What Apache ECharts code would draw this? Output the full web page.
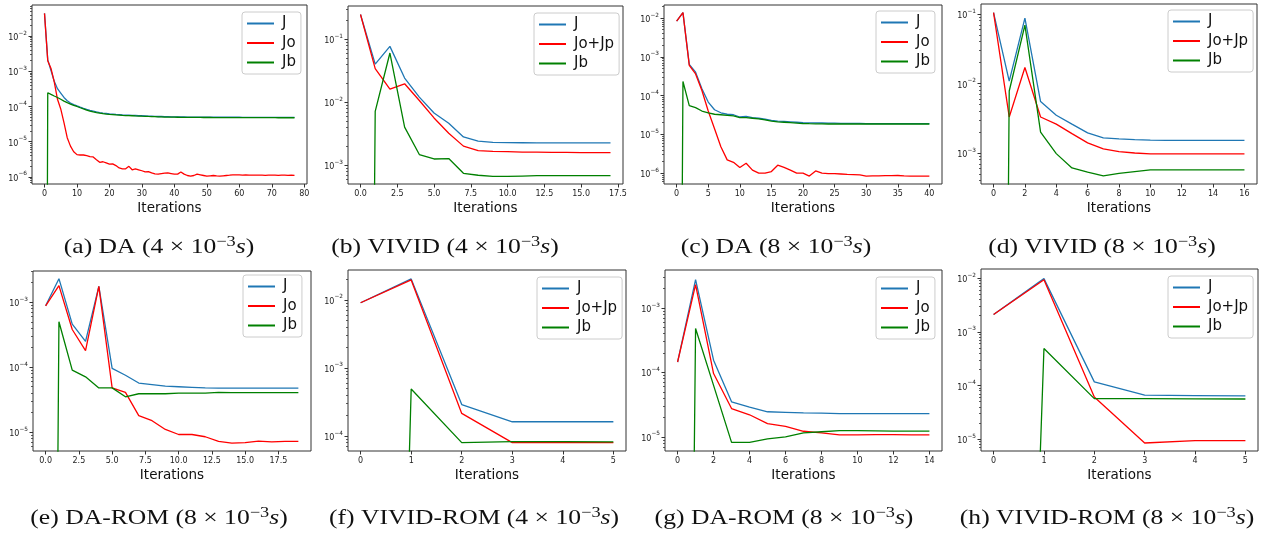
<!DOCTYPE html>
<html>
<head>
<meta charset="utf-8">
<script src="https://cdn.jsdelivr.net/npm/echarts@6/dist/echarts.min.js"></script>
<style>
  html, body { margin: 0; padding: 0; background: #fff; }
  #chart { width: 1271px; height: 535px; }
</style>
</head>
<body>
<div id="chart"></div>
<script>
// ---------------- cost histories per iteration (index = iteration) ----------------
// (a) DA, 4e-3 s
const jA = [0.044, 2.1e-3, 1.05e-3, 5.2e-4, 3.2e-4, 2.4e-4, 1.8e-4, 1.45e-4, 1.25e-4, 1.13e-4,
  1.04e-4, 9.6e-5, 8.9e-5, 8.3e-5, 7.8e-5, 7.4e-5, 7.0e-5, 6.7e-5, 6.5e-5, 6.35e-5,
  6.2e-5, 6.1e-5, 5.95e-5, 5.85e-5, 5.75e-5, 5.7e-5, 5.7e-5, 5.6e-5, 5.55e-5, 5.5e-5,
  5.45e-5, 5.4e-5, 5.35e-5, 5.3e-5, 5.25e-5, 5.2e-5, 5.2e-5, 5.15e-5, 5.15e-5, 5.1e-5,
  5.08e-5, 5.07e-5, 5.07e-5, 5.05e-5, 5.02e-5, 5.01e-5, 5.0e-5, 5.0e-5, 4.99e-5, 4.98e-5,
  4.97e-5, 4.97e-5, 4.96e-5, 4.96e-5, 4.95e-5, 4.95e-5, 4.95e-5, 4.94e-5, 4.94e-5, 4.94e-5,
  4.94e-5, 4.93e-5, 4.93e-5, 4.93e-5, 4.92e-5, 4.92e-5, 4.92e-5, 4.92e-5, 4.91e-5, 4.91e-5,
  4.91e-5, 4.91e-5, 4.9e-5, 4.9e-5, 4.9e-5, 4.9e-5, 4.9e-5, 4.9e-5];
const joA = [0.044, 2.0e-3, 1.2e-3, 5.0e-4, 1.6e-4, 8.5e-5, 3.5e-5, 1.3e-5, 7.5e-6, 5.2e-6,
  4.3e-6, 4.2e-6, 4.2e-6, 4.0e-6, 3.8e-6, 3.7e-6, 3.1e-6, 2.6e-6, 2.7e-6, 2.5e-6,
  2.3e-6, 2.35e-6, 2.1e-6, 1.8e-6, 1.7e-6, 1.7e-6, 2.0e-6, 1.6e-6, 1.7e-6, 1.6e-6,
  1.5e-6, 1.4e-6, 1.42e-6, 1.3e-6, 1.22e-6, 1.2e-6, 1.25e-6, 1.28e-6, 1.3e-6, 1.25e-6,
  1.2e-6, 1.2e-6, 1.38e-6, 1.2e-6, 1.1e-6, 1.05e-6, 1.1e-6, 1.2e-6, 1.15e-6, 1.1e-6,
  1.05e-6, 1.08e-6, 1.1e-6, 1.07e-6, 1.06e-6, 1.08e-6, 1.1e-6, 1.12e-6, 1.15e-6, 1.15e-6,
  1.14e-6, 1.13e-6, 1.14e-6, 1.13e-6, 1.12e-6, 1.13e-6, 1.12e-6, 1.12e-6, 1.11e-6, 1.12e-6,
  1.13e-6, 1.12e-6, 1.11e-6, 1.12e-6, 1.12e-6, 1.11e-6, 1.12e-6, 1.11e-6];
const jbA = [0, 2.45e-4, 2.2e-4, 1.98e-4, 1.8e-4, 1.6e-4, 1.42e-4, 1.28e-4, 1.17e-4, 1.08e-4,
  1.0e-4, 9.2e-5, 8.5e-5, 7.9e-5, 7.4e-5, 7.0e-5, 6.7e-5, 6.45e-5, 6.25e-5, 6.1e-5,
  5.97e-5, 5.87e-5, 5.75e-5, 5.67e-5, 5.58e-5, 5.53e-5, 5.5e-5, 5.45e-5, 5.38e-5, 5.35e-5,
  5.3e-5, 5.26e-5, 5.21e-5, 5.17e-5, 5.13e-5, 5.08e-5, 5.08e-5, 5.02e-5, 5.02e-5, 4.98e-5,
  4.96e-5, 4.95e-5, 4.93e-5, 4.93e-5, 4.91e-5, 4.9e-5, 4.89e-5, 4.88e-5, 4.88e-5, 4.87e-5,
  4.86e-5, 4.86e-5, 4.85e-5, 4.85e-5, 4.84e-5, 4.84e-5, 4.84e-5, 4.83e-5, 4.83e-5, 4.82e-5,
  4.82e-5, 4.82e-5, 4.82e-5, 4.82e-5, 4.81e-5, 4.81e-5, 4.81e-5, 4.81e-5, 4.8e-5, 4.8e-5,
  4.8e-5, 4.8e-5, 4.79e-5, 4.79e-5, 4.79e-5, 4.79e-5, 4.79e-5, 4.79e-5];

// (b) VIVID, 4e-3 s
const jB = [0.245, 0.040, 0.0765, 0.024, 0.012, 6.7e-3, 4.6e-3, 2.8e-3, 2.4e-3, 2.3e-3,
  2.27e-3, 2.26e-3, 2.25e-3, 2.25e-3, 2.25e-3, 2.25e-3, 2.25e-3, 2.25e-3];
const jojpB = [0.245, 0.034, 0.016, 0.0195, 0.0106, 5.6e-3, 3.2e-3, 2.0e-3, 1.7e-3, 1.65e-3,
  1.63e-3, 1.61e-3, 1.6e-3, 1.59e-3, 1.59e-3, 1.58e-3, 1.58e-3, 1.58e-3];
const jbB = [0, 7.1e-3, 0.06, 4.0e-3, 1.47e-3, 1.25e-3, 1.27e-3, 7.4e-4, 6.9e-4, 6.6e-4,
  6.6e-4, 6.7e-4, 6.8e-4, 6.8e-4, 6.8e-4, 6.8e-4, 6.8e-4, 6.8e-4];

// (c) DA, 8e-3 s
const jC = [8.3e-3, 0.0137, 6.4e-4, 4.0e-4, 1.5e-4, 6.8e-5, 4.3e-5, 3.6e-5, 3.3e-5, 3.2e-5,
  2.8e-5, 2.9e-5, 2.7e-5, 2.6e-5, 2.45e-5, 2.3e-5, 2.2e-5, 2.15e-5, 2.1e-5, 2.05e-5,
  2.0e-5, 1.98e-5, 1.97e-5, 1.96e-5, 1.95e-5, 1.94e-5, 1.93e-5, 1.92e-5, 1.92e-5, 1.91e-5,
  1.9e-5, 1.9e-5, 1.9e-5, 1.9e-5, 1.9e-5, 1.9e-5, 1.9e-5, 1.9e-5, 1.9e-5, 1.9e-5, 1.9e-5];
const joC = [8.3e-3, 0.0137, 6.0e-4, 3.6e-4, 1.35e-4, 4.0e-5, 1.4e-5, 4.8e-6, 2.2e-6, 1.9e-6,
  1.4e-6, 1.8e-6, 1.2e-6, 1.0e-6, 1.0e-6, 1.1e-6, 1.6e-6, 1.4e-6, 1.2e-6, 1.0e-6,
  1.0e-6, 8.4e-7, 1.14e-6, 1.0e-6, 9.7e-7, 9.7e-7, 9.5e-7, 9.3e-7, 9.2e-7, 9.0e-7,
  8.4e-7, 8.5e-7, 8.5e-7, 8.6e-7, 8.6e-7, 8.7e-7, 8.5e-7, 8.4e-7, 8.4e-7, 8.4e-7, 8.4e-7];
const jbC = [0, 2.3e-4, 5.5e-5, 4.9e-5, 4.0e-5, 3.6e-5, 3.3e-5, 3.2e-5, 3.1e-5, 3.0e-5,
  2.7e-5, 2.7e-5, 2.6e-5, 2.5e-5, 2.35e-5, 2.2e-5, 2.1e-5, 2.05e-5, 2.0e-5, 1.95e-5,
  1.9e-5, 1.88e-5, 1.87e-5, 1.86e-5, 1.85e-5, 1.85e-5, 1.85e-5, 1.85e-5, 1.85e-5, 1.85e-5,
  1.85e-5, 1.85e-5, 1.85e-5, 1.85e-5, 1.85e-5, 1.85e-5, 1.85e-5, 1.85e-5, 1.85e-5, 1.85e-5, 1.85e-5];

// (d) VIVID, 8e-3 s
const jD = [0.105, 0.0108, 0.087, 5.5e-3, 3.5e-3, 2.6e-3, 1.95e-3, 1.65e-3, 1.6e-3, 1.56e-3,
  1.53e-3, 1.52e-3, 1.52e-3, 1.52e-3, 1.52e-3, 1.52e-3, 1.52e-3];
const jojpD = [0.105, 3.3e-3, 0.017, 3.3e-3, 2.6e-3, 1.9e-3, 1.4e-3, 1.15e-3, 1.05e-3, 1.0e-3,
  9.7e-4, 9.7e-4, 9.7e-4, 9.7e-4, 9.7e-4, 9.7e-4, 9.7e-4];
const jbD = [0, 7.8e-3, 0.069, 2.0e-3, 9.8e-4, 6.1e-4, 5.3e-4, 4.7e-4, 5.1e-4, 5.4e-4,
  5.7e-4, 5.7e-4, 5.7e-4, 5.7e-4, 5.7e-4, 5.7e-4, 5.7e-4];

// (e) DA-ROM, 8e-3 s
const jE = [8.8e-4, 2.3e-3, 4.6e-4, 2.5e-4, 1.75e-3, 9.6e-5, 7.5e-5, 5.7e-5, 5.4e-5, 5.1e-5,
  5.0e-5, 4.9e-5, 4.8e-5, 4.75e-5, 4.75e-5, 4.75e-5, 4.75e-5, 4.75e-5, 4.75e-5, 4.75e-5];
const joE = [8.8e-4, 1.8e-3, 3.8e-4, 1.8e-4, 1.75e-3, 4.8e-5, 4.1e-5, 1.8e-5, 1.5e-5, 1.1e-5,
  9.2e-6, 9.2e-6, 8.5e-6, 7.2e-6, 6.8e-6, 6.9e-6, 7.3e-6, 7.1e-6, 7.2e-6, 7.2e-6];
const jbE = [0, 5.0e-4, 9.0e-5, 7.1e-5, 4.8e-5, 4.8e-5, 3.5e-5, 3.9e-5, 3.9e-5, 3.9e-5,
  4.0e-5, 4.0e-5, 4.0e-5, 4.1e-5, 4.05e-5, 4.05e-5, 4.05e-5, 4.05e-5, 4.05e-5, 4.05e-5];

// (f) VIVID-ROM, 4e-3 s
const jF = [9.1e-3, 0.0204, 2.9e-4, 1.62e-4, 1.62e-4, 1.62e-4];
const jojpF = [9.1e-3, 0.0197, 2.15e-4, 8.0e-5, 8.0e-5, 8.0e-5];
const jbF = [0, 4.9e-4, 8.0e-5, 8.3e-5, 8.25e-5, 8.2e-5];

// (g) DA-ROM, 8e-3 s
const jG = [1.45e-4, 2.75e-3, 1.55e-4, 3.5e-5, 2.9e-5, 2.45e-5, 2.4e-5, 2.35e-5, 2.33e-5, 2.3e-5,
  2.3e-5, 2.3e-5, 2.3e-5, 2.3e-5, 2.3e-5];
const joG = [1.45e-4, 2.3e-3, 9.6e-5, 2.75e-5, 2.2e-5, 1.6e-5, 1.45e-5, 1.22e-5, 1.15e-5, 1.07e-5,
  1.07e-5, 1.08e-5, 1.08e-5, 1.07e-5, 1.07e-5];
const jbG = [0, 4.8e-4, 6.3e-5, 8.2e-6, 8.2e-6, 9.3e-6, 1.0e-5, 1.15e-5, 1.2e-5, 1.25e-5,
  1.25e-5, 1.24e-5, 1.23e-5, 1.23e-5, 1.23e-5];

// (h) VIVID-ROM, 8e-3 s
const jH = [2.1e-3, 9.8e-3, 1.17e-4, 6.6e-5, 6.5e-5, 6.4e-5];
const jojpH = [2.1e-3, 9.3e-3, 6.1e-5, 8.5e-6, 9.4e-6, 9.4e-6];
const jbH = [0, 4.9e-4, 5.7e-5, 5.7e-5, 5.65e-5, 5.6e-5];

// legend names of the three curves in each panel
const namesDA = ['J', 'Jo', 'Jb'];
const namesVIVID = ['J', 'Jo+Jp', 'Jb'];

// x tick labels of each panel
const xTicksA = ['0', '10', '20', '30', '40', '50', '60', '70', '80'];
const xTicksB = ['0.0', '2.5', '5.0', '7.5', '10.0', '12.5', '15.0', '17.5'];
const xTicksC = ['0', '5', '10', '15', '20', '25', '30', '35', '40'];
const xTicksD = ['0', '2', '4', '6', '8', '10', '12', '14', '16'];
const xTicksE = ['0.0', '2.5', '5.0', '7.5', '10.0', '12.5', '15.0', '17.5'];
const xTicksF = ['0', '1', '2', '3', '4', '5'];
const xTicksG = ['0', '2', '4', '6', '8', '10', '12', '14'];
const xTicksH = ['0', '1', '2', '3', '4', '5'];

// sub-captions: [label, method, step]
const captions = [
  ['(a)', 'DA', '4'], ['(b)', 'VIVID', '4'], ['(c)', 'DA', '8'], ['(d)', 'VIVID', '8'],
  ['(e)', 'DA-ROM', '8'], ['(f)', 'VIVID-ROM', '4'], ['(g)', 'DA-ROM', '8'], ['(h)', 'VIVID-ROM', '8']
];

// ---------------- panel assembly ----------------
const panels = [
  { curves: [jA, joA, jbA], names: namesDA, ticks: xTicksA, x: [-3.85, 80.85], y: [-6.2, -1.12] },
  { curves: [jB, jojpB, jbB], names: namesVIVID, ticks: xTicksB, x: [-0.85, 17.85], y: [-3.30, -0.476] },
  { curves: [jC, joC, jbC], names: namesDA, ticks: xTicksC, x: [-2, 42], y: [-6.28, -1.665] },
  { curves: [jD, jojpD, jbD], names: namesVIVID, ticks: xTicksD, x: [-0.8, 16.8], y: [-3.446, -0.856] },
  { curves: [jE, joE, jbE], names: namesDA, ticks: xTicksE, x: [-0.95, 19.95], y: [-5.29, -2.52] },
  { curves: [jF, jojpF, jbF], names: namesVIVID, ticks: xTicksF, x: [-0.25, 5.25], y: [-4.22, -1.56] },
  { curves: [jG, joG, jbG], names: namesDA, ticks: xTicksG, x: [-0.7, 14.7], y: [-5.22, -2.41] },
  { curves: [jH, jojpH, jbH], names: namesVIVID, ticks: xTicksH, x: [-0.25, 5.25], y: [-5.22, -1.83] }
];

const gridRects = [
  { left: 32, top: 5, width: 275, height: 179 },
  { left: 348, top: 6, width: 275, height: 178 },
  { left: 664, top: 5, width: 278, height: 179 },
  { left: 981, top: 4, width: 276, height: 180 },
  { left: 33, top: 271, width: 278, height: 180 },
  { left: 348, top: 270, width: 278, height: 181 },
  { left: 665, top: 270, width: 277, height: 181 },
  { left: 981, top: 269, width: 277, height: 182 }
];
const legendPos = [[242, 12], [534, 13], [876, 11], [1168, 10], [243, 275], [537, 277], [876, 277], [1168, 276]];
const captionPos = [[159, 247], [445, 247], [776, 247], [1102, 247], [159, 518], [474, 518], [784, 518], [1107, 518]];

const COLORS = ['#1f77b4', '#ff0000', '#008000'];
const INK = '#222';
const SANS = 'DejaVu Sans';
const SERIF = 'Liberation Serif';

// a log axis has no place for zero: clip it far below the axis, as a log plot does
const clipPositive = v => (v > 0 ? v : 1e-30);

function decadeTicks(lo, hi) {
  const major = [], minor = [];
  for (let e = Math.floor(lo); e <= Math.ceil(hi); e++) {
    if (e >= lo && e <= hi) major.push(e);
    for (let m = 2; m <= 9; m++) {
      const v = e + Math.log10(m);
      if (v >= lo && v <= hi) minor.push(v);
    }
  }
  return { major, minor };
}

const powerLabel = e => '{b|10}{s|' + (e < 0 ? '\u2212' + (-e) : String(e)) + '}';

const option = {
  animation: false,
  backgroundColor: '#fff',
  grid: [], xAxis: [], yAxis: [], series: [], legend: [], graphic: []
};

panels.forEach((p, i) => {
  option.grid.push(Object.assign({
    show: true, borderColor: '#333', borderWidth: 1, backgroundColor: 'transparent',
    outerBoundsMode: 'none', containLabel: false
  }, gridRects[i]));

  const tickVals = p.ticks.map(Number);
  option.xAxis.push({
    type: 'value', gridIndex: i, position: 'bottom', min: p.x[0], max: p.x[1],
    axisLine: { show: false }, splitLine: { show: false },
    axisTick: { show: true, length: 3.5, lineStyle: { color: '#333', width: 1 }, customValues: tickVals },
    axisLabel: {
      customValues: tickVals, margin: 5.5, fontSize: 8, color: INK, fontFamily: SANS,
      formatter: v => p.ticks[tickVals.indexOf(v)] ?? String(v)
    },
    name: 'Iterations', nameLocation: 'middle', nameGap: 17,
    nameTextStyle: { fontSize: 13.5, color: '#111', fontFamily: SANS }
  });

  const t = decadeTicks(p.y[0], p.y[1]);
  // data axis (log scale)
  option.yAxis.push({
    type: 'log', logBase: 10, gridIndex: i, position: 'left',
    min: Math.pow(10, p.y[0]), max: Math.pow(10, p.y[1]), show: false
  });
  // decade ticks and labels, laid out on the exponent scale
  option.yAxis.push({
    type: 'value', gridIndex: i, position: 'left', offset: 0, min: p.y[0], max: p.y[1],
    axisLine: { show: false }, splitLine: { show: false },
    axisTick: { show: true, length: 3.5, lineStyle: { color: '#333', width: 1 }, customValues: t.major },
    axisLabel: {
      customValues: t.major, margin: 5, formatter: v => powerLabel(Math.round(v)),
      rich: {
        b: { fontSize: 8, fontFamily: SANS, color: INK, lineHeight: 12, verticalAlign: 'bottom' },
        s: { fontSize: 5.8, fontFamily: SANS, color: INK, lineHeight: 7, verticalAlign: 'top' }
      }
    }
  });
  // minor ticks at 2..9 x 10^n
  option.yAxis.push({
    type: 'value', gridIndex: i, position: 'left', offset: 0, min: p.y[0], max: p.y[1],
    axisLine: { show: false }, splitLine: { show: false }, axisLabel: { show: false },
    axisTick: { show: true, length: 2, lineStyle: { color: '#333', width: 0.8 }, customValues: t.minor }
  });

  p.curves.forEach((vals, k) => {
    option.series.push({
      type: 'line', name: p.names[k], xAxisIndex: i, yAxisIndex: i * 3,
      data: vals.map((v, it) => [it, clipPositive(v)]),
      showSymbol: false, symbol: 'none', color: COLORS[k],
      lineStyle: { width: 1.3, color: COLORS[k] }, clip: true, z: 2 + k
    });
  });

  option.legend.push({
    left: legendPos[i][0], top: legendPos[i][1], orient: 'vertical',
    data: p.names, selectedMode: false,
    icon: 'rect', itemWidth: 27, itemHeight: 2, itemGap: 2.5,
    padding: [3, 5, 3, 5], borderColor: '#ccc', borderWidth: 1, borderRadius: 3,
    backgroundColor: '#fff',
    textStyle: { fontSize: 15, fontFamily: SANS, color: '#111', lineHeight: 17, padding: [0, 0, 0, 3] }
  });

  // caption set in a serif face, widened a little to the width of the typeset original
  const c = captions[i];
  option.graphic.push({
    type: 'text', x: captionPos[i][0], y: captionPos[i][1], scaleX: 1.22,
    style: {
      text: c[0] + ' ' + c[1] + ' (' + c[2] + ' \u00d7 10{sup|\u22123}{it|s})',
      fontFamily: SERIF, fontSize: 21, fill: '#111',
      align: 'center', verticalAlign: 'middle', lineHeight: 25,
      rich: {
        sup: { fontFamily: SERIF, fontSize: 15, fill: '#111', lineHeight: 15, verticalAlign: 'top' },
        it: { fontFamily: SERIF, fontSize: 21, fontStyle: 'italic', fill: '#111', lineHeight: 25 }
      }
    }
  });
});

const chart = echarts.init(document.getElementById('chart'), null, { renderer: 'canvas' });
chart.setOption(option);
</script>
</body>
</html>
